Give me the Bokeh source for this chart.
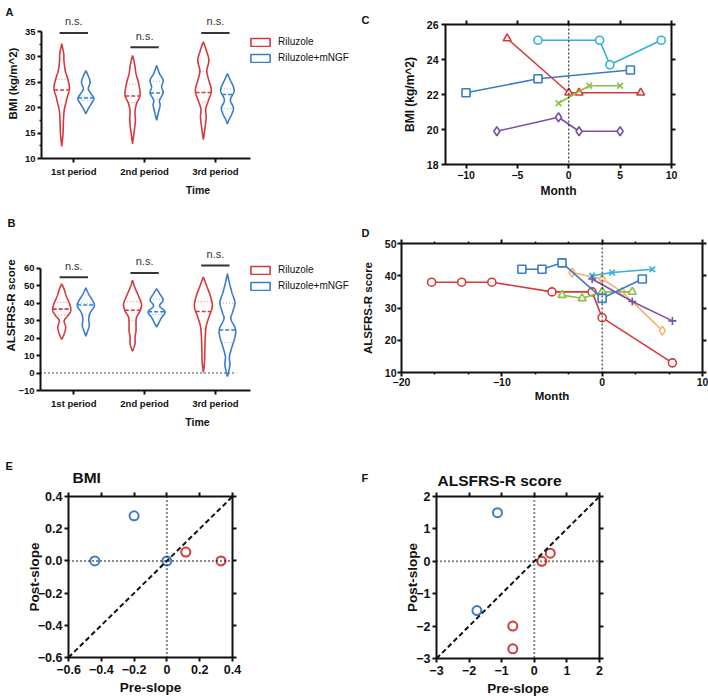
import numpy as np
from bokeh.plotting import figure
from bokeh.models import (LinearAxis, FixedTicker, Legend, LegendItem, Span, Slope, Range1d, Title)
from bokeh.layouts import column, row
from bokeh.embed import file_html
from bokeh.resources import INLINE
from bokeh.core.properties import value

FONT = "Liberation Sans"
INK = "#111111"
RED = "#D43A3C"
BLUE = "#3B7BCB"
CYAN = "#2FB3D5"
GREEN = "#8DC040"
PURPLE = "#7A4FA8"
ORANGE = "#F7B26A"

# ---------------- data ----------------
PERIODS = ["1st period", "2nd period", "3rd period"]
GROUPS = ["Riluzole", "Riluzole+mNGF"]

# violin outlines: (value, half-width in category units)
BMI_RIL_P1 = [(12.4, 0), (14.9, 0.018), (17.5, 0.024), (19.5, 0.035), (20.8, 0.056), (22.1, 0.078),
              (23.4, 0.106), (24.4, 0.106), (26.0, 0.078), (27.3, 0.049), (29.3, 0.031), (30.6, 0.028), (32.6, 0)]
BMI_RIL_P2 = [(12.9, 0), (15.5, 0.025), (17.5, 0.04), (19.2, 0.035), (20.8, 0.056), (22.5, 0.106),
              (24.8, 0.085), (26.7, 0.049), (28.7, 0.028), (30.3, 0)]
BMI_RIL_P3 = [(13.7, 0), (16.2, 0.025), (18.1, 0.04), (19.8, 0.035), (21.4, 0.071), (23.4, 0.113),
              (25.7, 0.071), (27.3, 0.049), (29.3, 0.078), (31.3, 0.042), (33.0, 0)]
BMI_MNGF_P1 = [(18.8, 0), (19.8, 0.035), (20.8, 0.078), (21.8, 0.113), (22.8, 0.071), (23.7, 0.035),
               (25.0, 0.061), (26.0, 0.042), (27.3, 0)]
BMI_MNGF_P2 = [(17.5, 0), (19.2, 0.028), (20.5, 0.049), (21.5, 0.042), (22.9, 0.092), (24.1, 0.071),
               (25.4, 0.092), (26.7, 0.042), (28.3, 0)]
BMI_MNGF_P3 = [(16.8, 0), (17.8, 0.028), (18.8, 0.064), (20.0, 0.085), (21.5, 0.042), (23.1, 0.092),
               (24.1, 0.085), (25.4, 0.042), (26.7, 0)]

BMI_RIL_MEDIAN = [23.5, 22.3, 23.0]
BMI_RIL_Q1 = [20.5, 21.0, 21.1]
BMI_RIL_Q3 = [25.6, 24.6, 27.1]
BMI_MNGF_MEDIAN = [21.9, 22.9, 22.6]
BMI_MNGF_Q1 = [21.4, 21.6, 19.8]
BMI_MNGF_Q3 = [22.1, 25.2, 23.7]
BMI_NS_Y = [34.7, 31.9, 34.7]

ALS_RIL_P1 = [(19.2, 0), (22.4, 0.035), (26.2, 0.056), (29.9, 0.035), (32.7, 0.085), (35.6, 0.127),
              (39.3, 0.113), (44.0, 0.064), (47.8, 0.035), (51.0, 0)]
ALS_RIL_P2 = [(12.4, 0), (16.7, 0.035), (20.5, 0.035), (24.3, 0.049), (28.1, 0.049), (31.8, 0.056),
              (35.6, 0.106), (39.3, 0.127), (44.0, 0.085), (48.7, 0.035), (53.0, 0)]
ALS_RIL_P3 = [(0.4, 0), (6.4, 0.017), (13.9, 0.021), (21.4, 0.028), (27.1, 0.042), (32.7, 0.085),
              (38.3, 0.127), (44.0, 0.099), (49.6, 0.049), (54.9, 0)]
ALS_MNGF_P1 = [(21.1, 0), (24.3, 0.028), (27.1, 0.049), (30.9, 0.042), (34.6, 0.064), (38.3, 0.12),
               (41.2, 0.099), (45.0, 0.042), (48.7, 0)]
ALS_MNGF_P2 = [(26.2, 0), (29.0, 0.035), (31.8, 0.071), (35.0, 0.12), (38.3, 0.042), (41.7, 0.092),
               (45.0, 0.049), (48.2, 0)]
ALS_MNGF_P3 = [(-2.1, 0), (4.5, 0.035), (9.2, 0.028), (14.9, 0.064), (20.5, 0.106), (25.2, 0.113),
               (30.9, 0.049), (34.6, 0.071), (40.2, 0.106), (45.9, 0.064), (51.5, 0.028), (56.8, 0)]

ALS_RIL_MEDIAN = [36.5, 35.9, 35.2]
ALS_RIL_Q1 = [33.1, 29.9, 25.2]
ALS_RIL_Q3 = [40.3, 40.8, 40.8]
ALS_MNGF_MEDIAN = [38.9, 35.0, 24.6]
ALS_MNGF_Q1 = [33.2, 33.5, 17.3]
ALS_MNGF_Q3 = [40.0, 42.1, 39.9]
ALS_NS_Y = [54.7, 57.2, 61.5]

# panel C: BMI per patient (month, BMI)
C_CIRCLE_X = [-3, 3, 4, 9];        C_CIRCLE_Y = [25.1, 25.1, 23.7, 25.1]
C_TRIANGLE_X = [-6, 0, 1, 7];      C_TRIANGLE_Y = [25.2, 22.1, 22.1, 22.1]
C_SQUARE_X = [-10, -3, 6];         C_SQUARE_Y = [22.1, 22.9, 23.4]
C_X_X = [-1, 2, 5];                C_X_Y = [21.5, 22.5, 22.5]
C_DIAMOND_X = [-7, -1, 1, 5];      C_DIAMOND_Y = [19.9, 20.7, 19.9, 19.9]

# panel D: ALSFRS-R per patient (month, score)
D_CIRCLE_X = [-17, -14, -11, -5, -1, 0, 7]; D_CIRCLE_Y = [38, 38, 38, 35, 35, 27, 13]
D_SQUARE_X = [-8, -6, -4, 0, 4];            D_SQUARE_Y = [42, 42, 44, 33, 39]
D_DIAMOND_X = [-3, 0, 2, 6];                D_DIAMOND_Y = [41, 39, 35, 23]
D_TRIANGLE_X = [-4, -2, 0, 3];              D_TRIANGLE_Y = [34, 33, 35, 35]
D_X_X = [-1, 1, 5];                         D_X_Y = [40, 41, 42]
D_PLUS_X = [-1, 3, 7];                      D_PLUS_Y = [39, 32, 26]

# panel E / F: slopes
E_BLUE_PRE = [-0.2, -0.44, 0.0];  E_BLUE_POST = [0.28, 0.0, 0.0]
E_RED_PRE = [0.115, 0.33];        E_RED_POST = [0.055, 0.0]
F_BLUE_PRE = [-1.13, -1.76];      F_BLUE_POST = [1.5, -1.52]
F_RED_PRE = [-0.66, -0.66, 0.23, 0.49]; F_RED_POST = [-2.0, -2.7, 0.0, 0.25]

OFFSET = 0.17  # group offset within a category


# ---------------- helpers ----------------
def smooth_profile(pairs, n=8):
    pts = np.array(pairs, dtype=float)
    P = np.vstack([pts[0], pts, pts[-1]])
    out = []
    for i in range(1, len(P) - 2):
        p0, p1, p2, p3 = P[i - 1], P[i], P[i + 1], P[i + 2]
        for t in np.linspace(0, 1, n, endpoint=False):
            t2 = t * t
            t3 = t2 * t
            out.append(0.5 * ((2 * p1) + (-p0 + p2) * t + (2 * p0 - 5 * p1 + 4 * p2 - p3) * t2
                              + (-p0 + 3 * p1 - 3 * p2 + p3) * t3))
    out.append(pts[-1])
    out = np.array(out)
    out[:, 1] = np.clip(out[:, 1], 0, None)
    return out[:, 0], out[:, 1]


def base_fig(w, h, xr, yr, left, right, top, bottom):
    p = figure(width=w, height=h, x_range=Range1d(*xr), y_range=Range1d(*yr),
               output_backend="svg", toolbar_location=None, x_axis_location=None,
               y_axis_location=None)
    p.frame_align = False
    p.min_border_left = left
    p.min_border_right = right
    p.min_border_top = top
    p.min_border_bottom = bottom
    p.xgrid.visible = False
    p.ygrid.visible = False
    p.outline_line_color = None
    p.background_fill_color = "white"
    p.border_fill_color = "white"
    return p


def style_axis(ax, tick_size, label_size, tick_out=4, standoff=2, label_standoff=3):
    ax.axis_line_width = 2
    ax.axis_line_color = INK
    ax.major_tick_line_width = 2
    ax.major_tick_line_color = INK
    ax.major_tick_out = tick_out
    ax.major_tick_in = 0
    ax.minor_tick_line_width = 1.5
    ax.minor_tick_line_color = INK
    ax.minor_tick_out = 2
    ax.minor_tick_in = 0
    ax.major_label_text_font = FONT
    ax.major_label_text_font_style = "bold"
    ax.major_label_text_font_size = f"{tick_size}px"
    ax.major_label_text_color = INK
    ax.major_label_standoff = standoff
    ax.axis_label_text_font = FONT
    ax.axis_label_text_font_style = "bold"
    ax.axis_label_text_font_size = f"{label_size}px"
    ax.axis_label_text_color = INK
    ax.axis_label_standoff = label_standoff


def mirror_axis(p, side, ticks, minor=None):
    # tick marks only, on the opposite side of the box
    ax = LinearAxis(ticker=FixedTicker(ticks=ticks, minor_ticks=minor or []))
    ax.axis_line_color = None
    ax.major_label_overrides = {t: "" for t in ticks}
    ax.major_label_text_font_size = "1px"
    ax.major_tick_line_width = 2
    ax.major_tick_line_color = INK
    ax.major_tick_out = 4
    ax.major_tick_in = 0
    ax.minor_tick_line_width = 1.5
    ax.minor_tick_line_color = INK
    ax.minor_tick_out = 2
    ax.minor_tick_in = 0
    ax.major_label_standoff = 0
    p.add_layout(ax, side)


def title(p, text, offset, standoff, size):
    p.add_layout(Title(text=text, align="left", offset=offset, standoff=standoff, text_font=FONT,
                       text_font_style="bold", text_font_size=f"{size}px", text_color=INK), "above")


def violin_panel(w, h, xr, yr, left, top, bottom, ybounds, yticks, yminor, ylabel, ylstand,
                 ril_profiles, mngf_profiles, ril_stats, mngf_stats, ns_y, ns_gap,
                 zero_line, legend_xy, letter_text, letter_offset, letter_standoff):
    p = base_fig(w, h, xr, yr, left, 0, top, bottom)
    xax = LinearAxis(ticker=FixedTicker(ticks=[1, 2, 3]), axis_label="Time")
    xax.major_label_overrides = {1: PERIODS[0], 2: PERIODS[1], 3: PERIODS[2]}
    xax.bounds = (xr[0], 3.49)
    style_axis(xax, 9.5, 10.5, tick_out=4, standoff=3, label_standoff=4)
    p.add_layout(xax, "below")
    yax = LinearAxis(ticker=FixedTicker(ticks=yticks, minor_ticks=yminor), axis_label=ylabel)
    yax.bounds = ybounds
    style_axis(yax, 9.5, 11.5, tick_out=4, standoff=2, label_standoff=ylstand)
    p.add_layout(yax, "left")

    if zero_line:
        p.segment(x0=[xr[0]], y0=[0], x1=[3.3], y1=[0], line_color=INK, line_width=1.5,
                  line_dash="1 3")

    renders = {}
    for gi, (profiles, stats, color, off) in enumerate(
            [(ril_profiles, ril_stats, RED, -OFFSET), (mngf_profiles, mngf_stats, BLUE, OFFSET)]):
        med, q1, q3 = stats
        for k, prof in enumerate(profiles):
            c = k + 1 + off
            v, hw = smooth_profile(prof)
            xs = np.concatenate([c + hw, (c - hw)[::-1]])
            ys = np.concatenate([v, v[::-1]])
            r = p.patch(xs, ys, fill_alpha=0, line_color=color, line_width=1.6)
            renders[gi] = r
            wm = np.interp(med[k], v, hw)
            p.segment(x0=[c - wm], y0=[med[k]], x1=[c + wm], y1=[med[k]], line_color=color,
                      line_width=1.6, line_dash="4 2")
            for qv in (q1[k], q3[k]):
                wq = np.interp(qv, v, hw)
                p.segment(x0=[c - wq], y0=[qv], x1=[c + wq], y1=[qv], line_color=color,
                          line_width=1, line_alpha=0.6, line_dash="1 2")

    cats = np.array([1, 2, 3], dtype=float)
    p.segment(x0=cats - 0.2, y0=ns_y, x1=cats + 0.2, y1=ns_y, line_color="#333333", line_width=2)
    p.text(x=cats, y=np.array(ns_y) + ns_gap, text=["n.s."] * 3, text_font=value(FONT),
           text_font_size="11px", text_color="#333333", text_align="center", text_baseline="bottom")

    legend = Legend(items=[LegendItem(label=GROUPS[0], renderers=[renders[0]]),
                           LegendItem(label=GROUPS[1], renderers=[renders[1]])],
                    location=legend_xy, orientation="vertical")
    legend.background_fill_alpha = 0
    legend.border_line_color = None
    legend.padding = 0
    legend.margin = 0
    legend.spacing = 3
    legend.glyph_width = 24
    legend.glyph_height = 10
    legend.label_standoff = 6
    legend.label_text_font = FONT
    legend.label_text_font_size = "10px"
    legend.label_text_color = INK
    legend.label_height = 13
    p.add_layout(legend, "center")
    title(p, letter_text, letter_offset, letter_standoff, 11)
    return p


def box_axes(p, xticks, yticks, xlabel, ylabel, tick_size, label_size, xstand, xlstand, ystand, ylstand,
             xminor=None, right_ticks=None):
    p.outline_line_color = INK
    p.outline_line_width = 2
    xax = LinearAxis(ticker=FixedTicker(ticks=xticks, minor_ticks=xminor or []), axis_label=xlabel)
    style_axis(xax, tick_size, label_size, tick_out=4, standoff=xstand, label_standoff=xlstand)
    xax.axis_line_color = None
    p.add_layout(xax, "below")
    yax = LinearAxis(ticker=FixedTicker(ticks=yticks), axis_label=ylabel)
    style_axis(yax, tick_size, label_size, tick_out=4, standoff=ystand, label_standoff=ylstand)
    yax.axis_line_color = None
    p.add_layout(yax, "left")
    mirror_axis(p, "above", xticks, xminor)
    mirror_axis(p, "right", right_ticks if right_ticks is not None else yticks)


def line_series(p, xs, ys, color, marker, size=8):
    p.line(xs, ys, line_color=color, line_width=1.6)
    p.scatter(xs, ys, marker=marker, size=size, line_color=color, line_width=1.6,
              fill_color="white")


# ---------------- panel A ----------------
pA = violin_panel(354, 200, (0.544, 4.965), (10, 39.53), 41, 8, 42, (10, 35),
                  [10, 15, 20, 25, 30, 35], [12.5, 17.5, 22.5, 27.5, 32.5], "BMI (kg/m^2)", 3,
                  [BMI_RIL_P1, BMI_RIL_P2, BMI_RIL_P3], [BMI_MNGF_P1, BMI_MNGF_P2, BMI_MNGF_P3],
                  (BMI_RIL_MEDIAN, BMI_RIL_Q1, BMI_RIL_Q3), (BMI_MNGF_MEDIAN, BMI_MNGF_Q1, BMI_MNGF_Q3),
                  BMI_NS_Y, 1.1, False, (207, 94), "A", -36, -18)

# ---------------- panel B ----------------
pB = violin_panel(354, 230, (0.530, 4.965), (-10, 87.2), 40, 20, 38, (-10, 60),
                  [-10, 0, 10, 20, 30, 40, 50, 60], [], "ALSFRS-R score", -2,
                  [ALS_RIL_P1, ALS_RIL_P2, ALS_RIL_P3], [ALS_MNGF_P1, ALS_MNGF_P2, ALS_MNGF_P3],
                  (ALS_RIL_MEDIAN, ALS_RIL_Q1, ALS_RIL_Q3), (ALS_MNGF_MEDIAN, ALS_MNGF_Q1, ALS_MNGF_Q3),
                  ALS_NS_Y, 3.2, True, (208, 98), "B", -33, -17)

# ---------------- panel C ----------------
pC = base_fig(354, 215, (-12, 10), (18, 26), 91, 37, 24, 51)
box_axes(pC, [-10, -5, 0, 5, 10], [18, 20, 22, 24, 26], "Month", "BMI (kg/m^2)", 10.5, 12, 2, 2, 3, 7)
pC.add_layout(Span(location=0, dimension="height", line_color=INK, line_width=1, line_dash="2 2"))
line_series(pC, C_CIRCLE_X, C_CIRCLE_Y, CYAN, "circle")
line_series(pC, C_TRIANGLE_X, C_TRIANGLE_Y, RED, "triangle")
line_series(pC, C_SQUARE_X, C_SQUARE_Y, BLUE, "square")
line_series(pC, C_X_X, C_X_Y, GREEN, "x")
line_series(pC, C_DIAMOND_X, C_DIAMOND_Y, PURPLE, "diamond", 9)
title(pC, "C", -84, -11, 11)

# ---------------- panel D ----------------
pD = base_fig(354, 215, (-20, 10), (10, 50), 47, 6, 28, 58)
d_minor = [-16.67, -13.33, -6.67, -3.33, 3.33, 6.67]
box_axes(pD, [-20, -10, 0, 10], [10, 20, 30, 40, 50], "Month", "ALSFRS-R score", 10.5, 11.5, 1, 1, 1, 8,
         xminor=d_minor)
pD.add_layout(Span(location=0, dimension="height", line_color=INK, line_width=1, line_dash="2 2"))
line_series(pD, D_CIRCLE_X, D_CIRCLE_Y, RED, "circle")
line_series(pD, D_DIAMOND_X, D_DIAMOND_Y, ORANGE, "diamond", 9)
line_series(pD, D_TRIANGLE_X, D_TRIANGLE_Y, GREEN, "triangle")
line_series(pD, D_X_X, D_X_Y, CYAN, "x")
line_series(pD, D_PLUS_X, D_PLUS_Y, PURPLE, "cross")
line_series(pD, D_SQUARE_X, D_SQUARE_Y, BLUE, "square")
title(pD, "D", -40, 1, 11)


# ---------------- panels E, F ----------------
def slope_panel(xr, left, right, top, bottom, ticks, bpre, bpost, rpre, rpost, ylstand):
    p = base_fig(354, 270, xr, xr, left, right, top, bottom)
    box_axes(p, ticks, ticks, "Pre-slope", "Post-slope", 12.5, 13.5, 3, 3, 2, ylstand)
    p.add_layout(Span(location=0, dimension="height", line_color=INK, line_width=2, line_dash="1 3"))
    p.add_layout(Span(location=0, dimension="width", line_color=INK, line_width=2, line_dash="1 3"))
    p.add_layout(Slope(gradient=1, y_intercept=0, line_color=INK, line_width=2, line_dash="5 3"))
    p.scatter(bpre, bpost, marker="circle", size=9, fill_color=None, line_color=BLUE, line_width=2)
    p.scatter(rpre, rpost, marker="circle", size=9, fill_color=None, line_color=RED, line_width=2)
    return p


pE = slope_panel((-0.6, 0.4), 68, 122, 66, 43, [-0.6, -0.4, -0.2, 0.0, 0.2, 0.4],
                 E_BLUE_PRE, E_BLUE_POST, E_RED_PRE, E_RED_POST, -7)
pE.xaxis[0].major_label_overrides = {0.0: "0.0"}
pE.yaxis[0].major_label_overrides = {0.0: "0.0"}
title(pE, "BMI", 4, 6, 15.5)
title(pE, "E", -63, -17, 11)

pF = slope_panel((-3, 2), 82, 109, 66, 42, [-3, -2, -1, 0, 1, 2],
                 F_BLUE_PRE, F_BLUE_POST, F_RED_PRE, F_RED_POST, -7)
title(pF, "ALSFRS-R score", 1, 8, 15.5)
title(pF, "F", -75, -37, 11)

layout = column(row(column(pA, pB), column(pC, pD)), row(pE, pF))
open("out.html", "w").write(file_html(layout, INLINE))
